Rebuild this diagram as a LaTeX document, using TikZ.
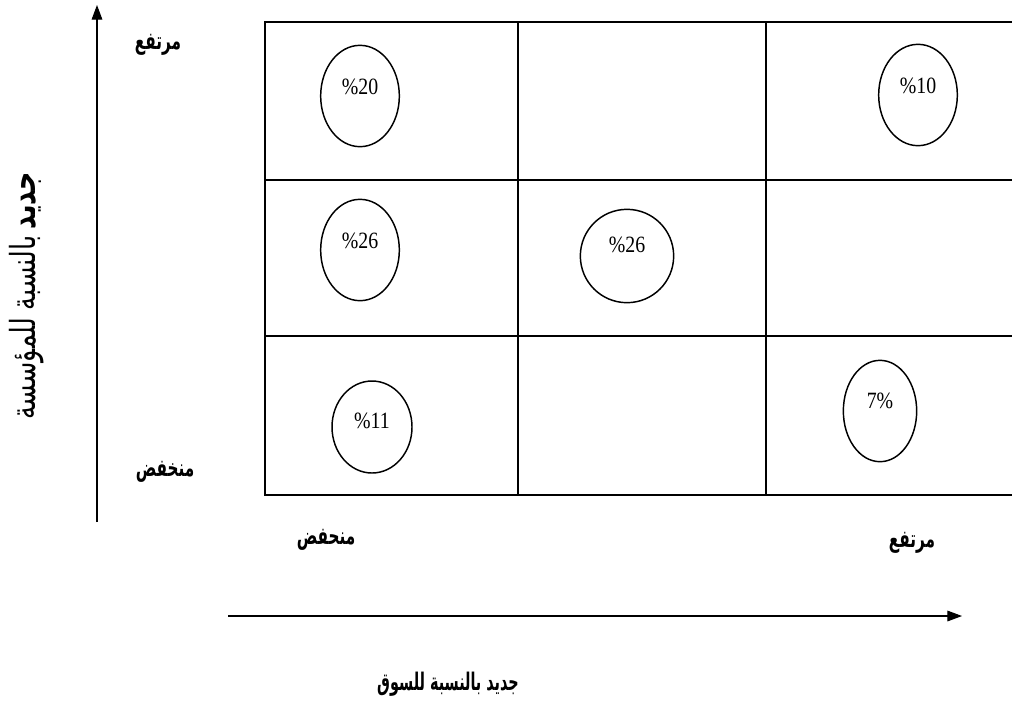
\documentclass[tikz,border=0pt]{standalone}
\usepackage{fontspec}
\setmainfont{Liberation Serif}
\newfontfamily\arabicfont[Script=Arabic]{DejaVu Sans}
\newfontfamily\arabicbold[Script=Arabic]{DejaVu Sans Bold}
\TeXXeTstate=1
\usetikzlibrary{arrows.meta,shapes.geometric}
\newcommand{\tallar}[1]{\scalebox{0.88}[1.4]{#1}}
\begin{document}
\begin{tikzpicture}[x=0.75pt,y=-0.75pt,
  grid/.style={line width=1.5pt},
  oval/.style={draw,line width=1.1pt,ellipse,inner sep=0pt},
  pct/.style={font=\fontsize{17.5}{17.5}\selectfont,inner sep=0pt},
  axis/.style={line width=0.8pt,-{Triangle[length=11pt,width=8pt]}},
  lbl/.style={font=\arabicbold\fontsize{13}{13}\selectfont,inner sep=0pt}]
\useasboundingbox (0,0) rectangle (1012,701);
% grid
\draw[grid] (265,22) rectangle (1014,495);
\draw[grid] (518,22) -- (518,495);
\draw[grid] (766,22) -- (766,495);
\draw[grid] (265,180) -- (1014,180);
\draw[grid] (265,336) -- (1014,336);
% ellipses
\node[oval,minimum width=59pt,minimum height=76pt] (e1) at (360,96) {};
\node[oval,minimum width=59pt,minimum height=76pt] (e2) at (918,95) {};
\node[oval,minimum width=59pt,minimum height=76pt] (e3) at (360,250) {};
\node[oval,minimum width=70pt,minimum height=70pt] (e4) at (627,256) {};
\node[oval,minimum width=60pt,minimum height=69pt] (e5) at (372,427) {};
\node[oval,minimum width=55pt,minimum height=76pt] (e6) at (880,411) {};
\node[pct] (t1) at (360,87) {\scalebox{0.85}[1]{\%20}};
\node[pct] (t2) at (918,86) {\scalebox{0.85}[1]{\%10}};
\node[pct] (t3) at (360,241) {\scalebox{0.85}[1]{\%26}};
\node[pct] (t4) at (627,245) {\scalebox{0.85}[1]{\%26}};
\node[pct] (t5) at (372,421) {\scalebox{0.85}[1]{\%11}};
\node[pct] (t6) at (880,401) {\scalebox{0.85}[1]{7\%}};
% axes
\coordinate (vs) at (97,522);
\coordinate (ve) at (97,5);
\draw[axis] (vs) -- (ve);
\coordinate (hs) at (228,616);
\coordinate (he) at (962,616);
\draw[axis] (hs) -- (he);
% labels
\node[lbl] (l1) at (158,45) {\tallar{\beginR مرتفع\endR}};
\node[lbl] (l2) at (165,472) {\tallar{\beginR منخفض\endR}};
\node[lbl] (l3) at (326,540) {\tallar{\beginR منحفض\endR}};
\node[lbl] (l4) at (912,543) {\tallar{\beginR مرتفع\endR}};
\node[lbl] (l5) at (448,684) {\scalebox{0.83}[1.4]{\beginR جديد بالنسبة للسوق\endR}};
\node[inner sep=0pt,rotate=90,font=\fontsize{18.5}{18.5}\selectfont] (l6) at (27,296) {\scalebox{1.03}[1.4]{\beginR{\arabicbold جديد} {\arabicfont بالنسبة للمؤسسة}\endR}};
\end{tikzpicture}
\end{document}
